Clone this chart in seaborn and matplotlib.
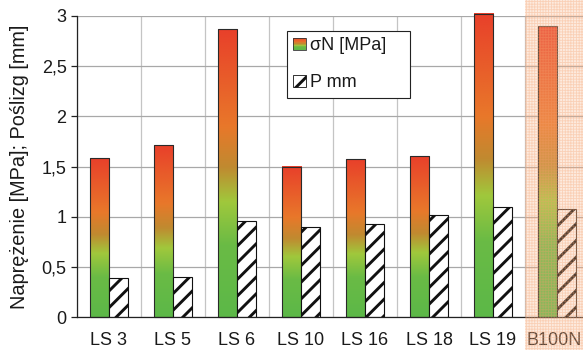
import numpy as np
import pandas as pd
import seaborn as sns
import matplotlib
matplotlib.use("Agg")
import matplotlib.pyplot as plt
from matplotlib.colors import LinearSegmentedColormap
from matplotlib.patches import Rectangle
from matplotlib.legend_handler import HandlerBase
from matplotlib.transforms import blended_transform_factory, ScaledTranslation

# ---------------- data ----------------
categories = ["LS 3", "LS 5", "LS 6", "LS 10", "LS 16", "LS 18", "LS 19", "B100N"]
sigma_N = [1.58, 1.71, 2.87, 1.50, 1.57, 1.60, 3.02, 2.90]
p_mm = [0.39, 0.40, 0.96, 0.90, 0.93, 1.02, 1.10, 1.08]
series_names = ["σN [MPa]", "P mm"]
y_ticks = [0, 0.5, 1, 1.5, 2, 2.5, 3]
y_tick_labels = ["0", "0,5", "1", "1,5", "2", "2,5", "3"]
y_label = "Naprężenie [MPa]; Poślizg [mm]"

df = pd.DataFrame({
    "cat": categories * 2,
    "series": [series_names[0]] * len(categories) + [series_names[1]] * len(categories),
    "val": sigma_N + p_mm,
})

# ---------------- style ----------------
sns.set_style("white")
plt.rcParams["font.family"] = ["Liberation Sans", "DejaVu Sans"]
plt.rcParams["hatch.linewidth"] = 2.1
TXT = "#1a1a1a"

grad = LinearSegmentedColormap.from_list(
    "grad",
    [(0.0, "#5cb848"), (0.25, "#6abb45"), (0.40, "#a0c83c"),
     (0.52, "#c08a30"), (0.66, "#e8782a"), (1.0, "#e8402a")])

fig = plt.figure(figsize=(5.83, 3.5), dpi=100)
ax = fig.add_axes([77 / 583, (350 - 317) / 350, 512 / 583, 301 / 350])

sns.barplot(data=df, x="cat", y="val", hue="series", order=categories,
            hue_order=series_names, width=0.6, ax=ax, legend=False,
            palette=["#ffffff", "#ffffff"], saturation=1)

ax.set_xlim(-0.5, len(categories) - 0.5)
ax.set_ylim(0, 3)

# gradient bars
for p in ax.containers[0]:
    x, w, h = p.get_x(), p.get_width(), p.get_height()
    g = np.linspace(0, 1, 256).reshape(-1, 1)
    ax.imshow(g, cmap=grad, origin="lower", aspect="auto",
              extent=[x, x + w, 0, h], zorder=2, clip_on=False,
              interpolation="bilinear")
    p.set_facecolor("none")
    p.set_edgecolor("#2a2a2a")
    p.set_linewidth(0.8)
    p.set_zorder(3)
    p.set_clip_on(False)

# hatched bars
for p in ax.containers[1]:
    p.set_facecolor("white")
    p.set_edgecolor("#111111")
    p.set_hatch("//")
    p.set_linewidth(0.8)
    p.set_zorder(3)

ax.set_xlim(-0.5, len(categories) - 0.5)
ax.set_ylim(0, 3)

# axes styling
for s in ["top", "right"]:
    ax.spines[s].set_visible(False)
for s in ["left", "bottom"]:
    ax.spines[s].set_color("#222222")
    ax.spines[s].set_linewidth(0.9)
    ax.spines[s].set_zorder(4)

ax.set_yticks(y_ticks)
ax.set_yticklabels(y_tick_labels)
ax.set_xticks(range(len(categories)))
ax.set_xticklabels(categories)
ax.set_xticks(np.arange(-0.5, len(categories) + 0.5, 1), minor=True)
ax.tick_params(axis="x", which="major", length=0, pad=11, labelsize=13, labelcolor=TXT)
ax.tick_params(axis="x", which="minor", length=4, width=0.9, direction="out", color="#222222")
ax.tick_params(axis="y", which="major", length=4, width=0.9, direction="out",
               color="#222222", pad=3.5, labelsize=13, labelcolor=TXT, left=True)
ax.yaxis.grid(True, color="#a8a8a8", linewidth=0.9)
ax.xaxis.grid(True, which="minor", color="#c4c4c4", linewidth=0.9)
ax.set_axisbelow(True)

# nudge the last label so it stays inside the figure
last = ax.get_xticklabels()[-1]
last.set_transform(last.get_transform() + ScaledTranslation(-3 / 100, 0, fig.dpi_scale_trans))

ax.set_xlabel("")
ax.set_ylabel(y_label, fontsize=14.3, color=TXT)
ax.yaxis.set_label_coords(-0.094, 0.5)


# legend with gradient swatch
class GradHandler(HandlerBase):
    def create_artists(self, legend, orig, xd, yd, width, height, fontsize, trans):
        arts = []
        n = 16
        for i in range(n):
            r = Rectangle((-xd, -yd + height * i / n), width, height / n,
                          facecolor=grad((i + 0.5) / n), edgecolor="none",
                          transform=trans)
            arts.append(r)
        arts.append(Rectangle((-xd, -yd), width, height, facecolor="none",
                              edgecolor="#333333", linewidth=0.6, transform=trans))
        return arts


h1 = Rectangle((0, 0), 1, 1, facecolor="none")
h2 = Rectangle((0, 0), 1, 1, facecolor="white", edgecolor="#111111", hatch="//", linewidth=0.6)
leg = ax.legend([h1, h2], series_names, handler_map={h1: GradHandler()},
                loc="upper left", bbox_to_anchor=(0.41, 0.5, 0.24, 0.45),
                mode="expand", borderaxespad=0, fontsize=13, frameon=True,
                fancybox=False, edgecolor="#222222", framealpha=1,
                handlelength=0.7, handleheight=0.7, handletextpad=0.25,
                labelspacing=1.1, borderpad=0.35)
leg.get_frame().set_linewidth(0.8)
for t in leg.get_texts():
    t.set_color(TXT)

# highlighted B100N column
trans = blended_transform_factory(ax.transData, fig.transFigure)
with plt.rc_context({"hatch.linewidth": 0.6}):
    ov = Rectangle((len(categories) - 1.5, 0), 1.2, 1, transform=trans,
                   facecolor=(0.98, 0.72, 0.55, 0.28),
                   edgecolor=(0.96, 0.62, 0.42, 0.35), hatch="++++++",
                   linewidth=0, clip_on=False, zorder=6)
ax.add_patch(ov)

fig.savefig("out.png", dpi=100)
